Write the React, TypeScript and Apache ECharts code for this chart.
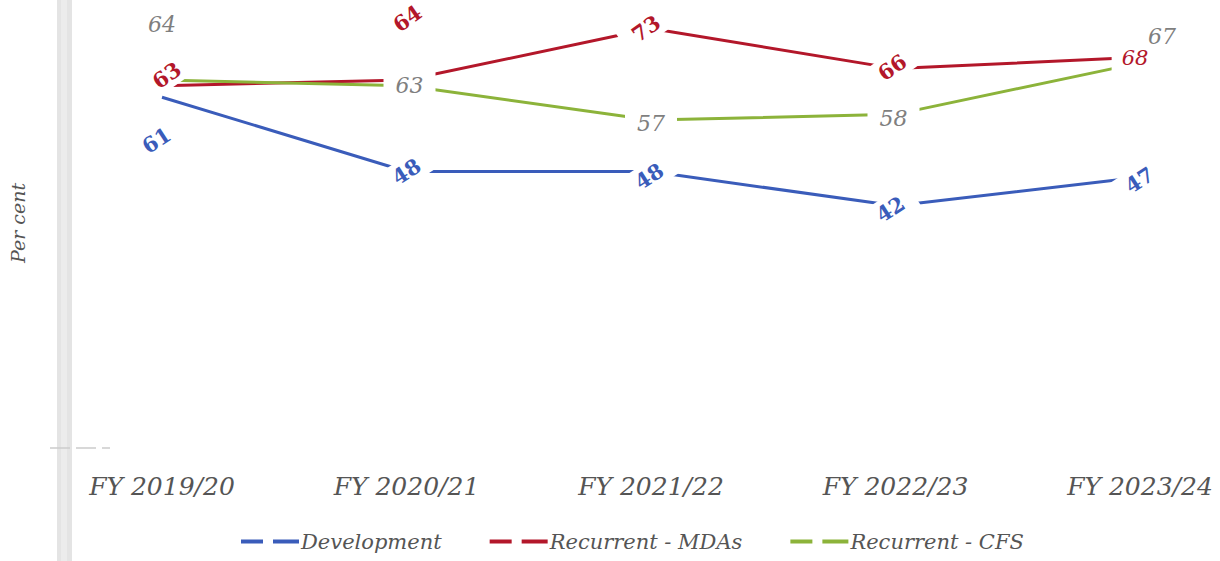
import React, { useEffect, useRef } from "react";
import * as echarts from "echarts";

const categories = ["FY 2019/20", "FY 2020/21", "FY 2021/22", "FY 2022/23", "FY 2023/24"];
const development = [61, 48, 48, 42, 47];
const recurrentMDAs = [63, 64, 73, 66, 68];
const recurrentCFS = [64, 63, 57, 58, 67];

const SERIF = "'DejaVu Serif', serif";
const BLUE = "#3a5cba";
const RED = "#b3172a";
const GREEN = "#8cb33a";
const GREY_LABEL = "#7f7f7f";
const TEXT = "#555555";
const DASH_ICON = "path://M0,0H22V4H0ZM32,0H58V4H32Z";

// per-point label tweaks (style only; offsets are in the label's rotated frame)
const devLabelStyle: any[] = [
  { offset: [-28, 33] },
  {},
  { offset: [-4, 3] },
  { offset: [-6, 0] },
  { offset: [-2, 2] },
];
const mdaLabelStyle: any[] = [
  { offset: [10, -6] },
  { offset: [36, -50], backgroundColor: "transparent" },
  { offset: [-4, -3] },
  { offset: [-2, -3] },
  { offset: [-5, 1], rotate: 0, fontWeight: "normal", fontStyle: "italic", padding: [3, 10] },
];
const cfsLabelStyle: any[] = [
  { offset: [0, -56], backgroundColor: "transparent" },
  { offset: [3, 0] },
  { offset: [0, 3] },
  { offset: [-2, 4] },
  { offset: [22, -26], backgroundColor: "transparent" },
];

function buildData(values: number[], styles: any[]) {
  return values.map((v, i) => ({ value: v, label: styles[i] }));
}

export default function App() {
  const ref = useRef<HTMLDivElement>(null);
  useEffect(() => {
    if (!ref.current) return;
    const chart = echarts.init(ref.current, undefined, { renderer: "svg" });
    const baseLabel = {
      show: true,
      position: "inside",
      fontFamily: SERIF,
      fontSize: 21,
      backgroundColor: "#ffffff",
      padding: [3, 13],
    };
    const lineCommon = {
      type: "line",
      symbol: "none",
      z: 2,
    };
    const labelCommon = {
      type: "scatter",
      symbol: "circle",
      symbolSize: 2,
      itemStyle: { color: "rgba(0,0,0,0)", borderWidth: 0, opacity: 1 },
      emphasis: { disabled: true },
      z: 5,
      silent: true,
    };
    chart.setOption({
      animation: false,
      backgroundColor: "#ffffff",
      grid: { left: 160, right: 80, top: 0, bottom: 115 },
      xAxis: {
        type: "category",
        data: categories,
        boundaryGap: false,
        axisLine: { show: false },
        axisTick: { show: false },
        axisLabel: {
          fontFamily: SERIF,
          fontStyle: "italic",
          fontSize: 25,
          color: TEXT,
          margin: 28,
        },
      },
      yAxis: {
        type: "value",
        min: 0,
        max: 78,
        axisLine: { show: false },
        axisTick: { show: false },
        axisLabel: { show: false },
        splitLine: { show: false },
        name: "Per cent",
        nameLocation: "middle",
        nameGap: 135,
        nameTextStyle: {
          fontFamily: SERIF,
          fontStyle: "italic",
          fontSize: 19,
          color: TEXT,
        },
      },
      legend: {
        bottom: 4,
        left: 236,
        itemWidth: 58,
        itemHeight: 4,
        itemGap: 48,
        icon: DASH_ICON,
        textStyle: {
          fontFamily: SERIF,
          fontStyle: "italic",
          fontSize: 21,
          color: TEXT,
          padding: [0, 0, 0, -3],
        },
        data: [
          { name: "Development", icon: DASH_ICON, itemStyle: { color: BLUE, opacity: 1 } },
          { name: "Recurrent - MDAs", icon: DASH_ICON, itemStyle: { color: RED, opacity: 1 } },
          { name: "Recurrent - CFS", icon: DASH_ICON, itemStyle: { color: GREEN, opacity: 1 } },
        ],
      },
      graphic: [
        { type: "rect", shape: { x: 57, y: 0, width: 15, height: 561 }, style: { fill: "#e4e4e4" }, z: -1 },
        { type: "rect", shape: { x: 61, y: 0, width: 6, height: 561 }, style: { fill: "#ececec" }, z: -1 },
        { type: "line", shape: { x1: 50, y1: 448, x2: 110, y2: 448 }, style: { stroke: "#cccccc", lineWidth: 1.5, lineDash: [20, 6] }, z: -1 },
      ],
      series: [
        {
          ...lineCommon,
          name: "Development",
          data: development,
          color: BLUE,
          lineStyle: { width: 3, color: BLUE },
        },
        {
          ...lineCommon,
          name: "Recurrent - MDAs",
          data: recurrentMDAs,
          color: RED,
          lineStyle: { width: 3, color: RED },
        },
        {
          ...lineCommon,
          name: "Recurrent - CFS",
          data: recurrentCFS,
          color: GREEN,
          lineStyle: { width: 3, color: GREEN },
        },
        {
          ...labelCommon,
          name: "Development labels",
          data: buildData(development, devLabelStyle),
          label: { ...baseLabel, color: BLUE, fontWeight: "bold", rotate: 33 },
        },
        {
          ...labelCommon,
          name: "Recurrent - MDAs labels",
          data: buildData(recurrentMDAs, mdaLabelStyle),
          label: { ...baseLabel, color: RED, fontWeight: "bold", rotate: 35 },
        },
        {
          ...labelCommon,
          name: "Recurrent - CFS labels",
          data: buildData(recurrentCFS, cfsLabelStyle),
          label: { ...baseLabel, color: GREY_LABEL, fontStyle: "italic", fontSize: 22, padding: [3, 12] },
        },
      ],
    });
    return () => chart.dispose();
  }, []);
  return (
    <div
      ref={ref}
      style={{ position: "fixed", left: 0, top: 0, width: 1220, height: 561 }}
    />
  );
}
